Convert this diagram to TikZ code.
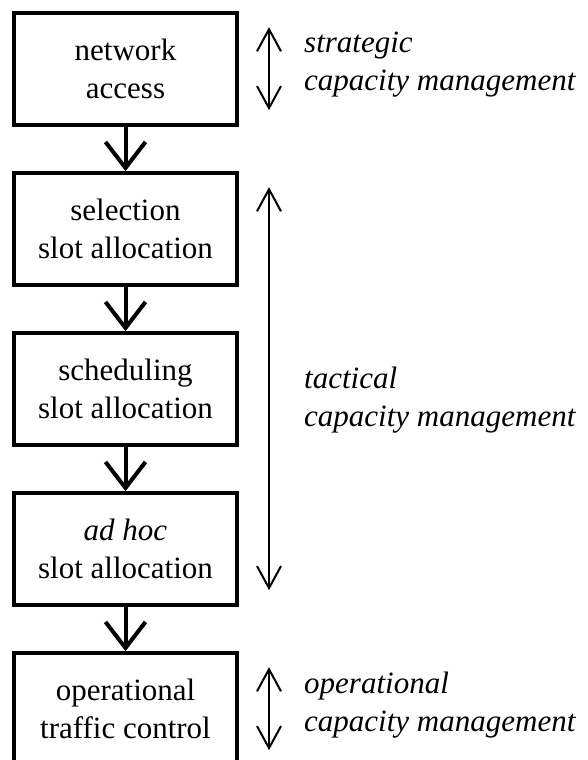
\documentclass[tikz,border=0pt]{standalone}
\usepackage{fontspec}
\setmainfont{Liberation Serif}
\usetikzlibrary{arrows.meta,positioning}

\begin{document}
\fontsize{31}{38}\selectfont
\begin{tikzpicture}[x=1pt,y=-1pt,
  box/.style={draw,line width=4pt,minimum width=223pt,minimum height=112pt,align=center,inner sep=0pt},
  flow/.style={line width=4pt,-{Straight Barb[length=26pt,width=40pt]}},
  span/.style={line width=2pt,{Straight Barb[length=22pt,width=24pt]}-{Straight Barb[length=22pt,width=24pt]}},
  level/.style={anchor=west,align=left,inner sep=0pt,font=\itshape},
  node distance=44pt]
\useasboundingbox (0,0) rectangle (587,760);
% chain of allocation steps
\node[box] (access) at (125.5,69.2) {network\\access};
\node[box,below=of access] (selection) {selection\\slot allocation};
\node[box,below=of selection] (scheduling) {scheduling\\slot allocation};
\node[box,below=of scheduling] (adhoc) {\textit{ad hoc}\\slot allocation};
\node[box,below=of adhoc] (traffic) {operational\\traffic control};
\draw[flow] (access) -- (selection);
\draw[flow] (selection) -- (scheduling);
\draw[flow] (scheduling) -- (adhoc);
\draw[flow] (adhoc) -- (traffic);
% management levels
\draw[span] ([xshift=30pt,yshift=-16pt]access.north east) -- ([xshift=30pt,yshift=17pt]access.south east);
\draw[span] ([xshift=30pt,yshift=-16pt]selection.north east) -- ([xshift=30pt,yshift=17pt]adhoc.south east);
\draw[span] ([xshift=30pt,yshift=-16pt]traffic.north east) -- ([xshift=30pt,yshift=17pt]traffic.south east);
\node[level] (strategic) at ([xshift=65pt,yshift=4.6pt]access.east) {strategic\\capacity management};
\node[level] (tactical) at ([xshift=65pt,yshift=-11pt]scheduling.east) {tactical\\capacity management};
\node[level] (operational) at ([xshift=65pt,yshift=4pt]traffic.east) {operational\\capacity management};
\end{tikzpicture}
\end{document}
